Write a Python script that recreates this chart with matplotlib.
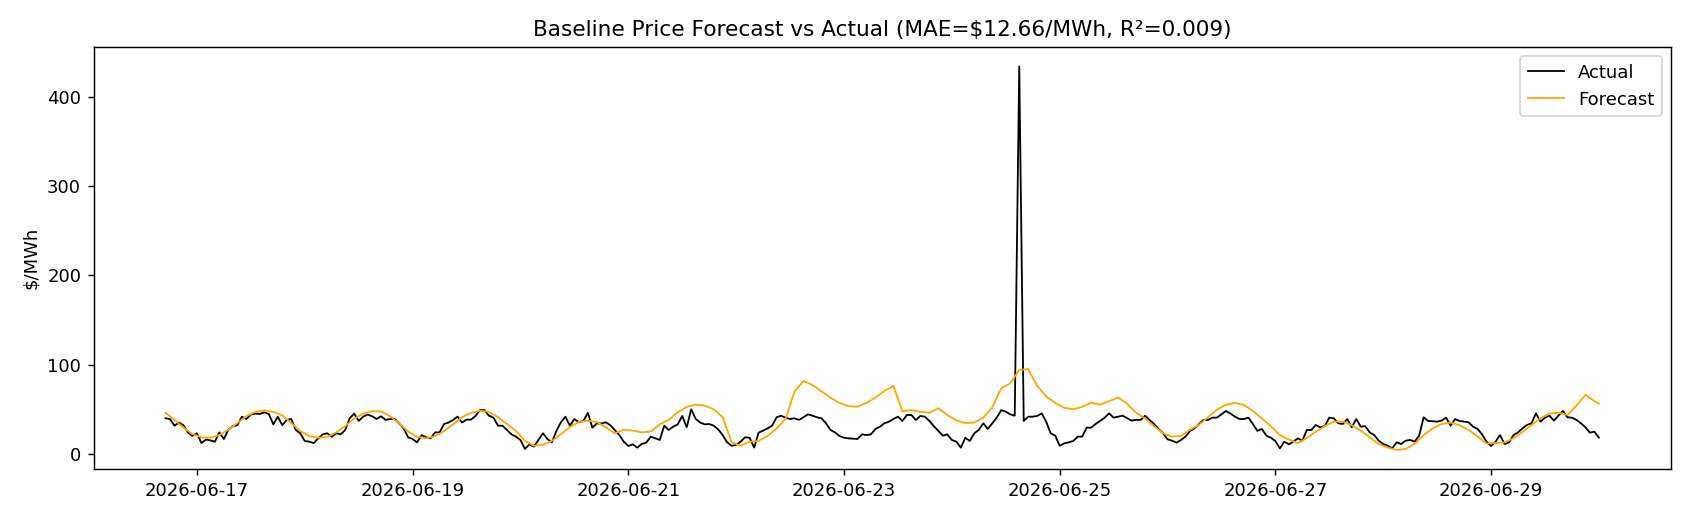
import numpy as np
import pandas as pd
import matplotlib
matplotlib.use("Agg")
import matplotlib.pyplot as plt
import matplotlib.dates as mdates

# actual: hourly, 2026-06-16 17:00 .. 2026-06-30 00:00
actual_times = pd.date_range("2026-06-16 17:00", periods=320, freq="h")
actual = [39.8, 39, 31.5, 35, 32, 24, 20, 23, 12, 16, 15, 13.6, 24, 16.6, 27, 31, 32, 41.6, 39, 44,
          45, 44.6, 46.5, 44.6, 33, 41.6, 32, 38,
          39, 26.7, 23, 14.3, 13.6, 12, 17.3, 21.8, 23, 19, 23, 21.8, 26.7, 39.8, 45, 36.8, 41.6, 44,
          42, 39, 42, 38, 39, 39, 34, 28.5, 18.5,
          16.6, 12.8, 21, 18.5, 17.3, 24, 24, 33.4, 35, 38, 41.6, 35, 38.3, 38.3, 42.4, 49, 49, 42.7,
          40.5, 31.5, 31.5, 26.7, 21.8, 19.2, 15.5, 5.4, 10.6, 8,
          15.5, 23, 16.6, 12.8, 25.6, 35.3, 41.6, 31.5, 39, 35.3, 36.8, 46, 29.3, 34, 34, 35.3, 32,
          26.7, 21, 13.6, 8.7, 10.6, 6.9, 11, 12.5, 19.2, 17.3,
          15.5, 31.5, 26.7, 30.4, 33, 42.4, 29.7, 49.9, 39, 35, 33, 33.4, 31.5, 27.4, 21, 12.8, 9, 10,
          13.6, 18.5, 18, 6.9, 23.7, 26, 28.5, 31.5, 40.9, 42.7, 40.5,
          39, 39.8, 38, 41, 44.2, 42.7, 40.9, 39.8, 34.2, 26.7, 24, 19.9, 18, 17.3, 17, 16.6, 21.8, 21,
          21.8, 27.8, 30.4, 34.2, 36, 39, 41.6, 36.8, 43.5,
          43.5, 37.8, 42.4, 41.6, 36.8, 31, 25.6, 20.3, 21.8, 15.5, 13.6, 6.9, 18, 14.3, 23, 26.7, 34.2,
          27.8, 34.2, 40.5, 49, 47.2, 44.2, 42.7, 434, 36.8, 41.6, 41.6,
          42.4, 45.3, 36, 23, 20.3, 9, 11.7, 12.8, 14.3, 19.2, 19.2, 29.3, 29.3, 33.4, 36.8, 40.5, 45.3,
          40.5, 41.6, 42.7, 40, 37.2, 38, 38, 42.7, 38, 33.4, 27.8, 23,
          16.2, 14.7, 12.5, 15.5, 19.2, 25.6, 28.5, 33.4, 38, 38, 40.5, 40.5, 44.2, 48, 45, 41.6, 39, 39,
          40.5, 33.4, 25.6, 27.8, 20.3, 18, 14.3, 6.1, 13.6,
          10.6, 13.6, 17.3, 14.7, 26.7, 26.7, 32.3, 29.7, 31, 40.5, 39.8, 34.2, 33.4, 39, 29.7, 39, 30.4,
          31, 24, 21, 14.7, 11, 9.1, 6.1, 12.8, 11, 14.7, 15.5,
          13.6, 20.3, 40.9, 36.8, 36.5, 36, 37.2, 40.5, 31.5, 39, 36.8, 36, 35.3, 30.4, 27.8, 21.8, 13.6,
          8.7, 13.6, 21, 11, 12.8, 21, 24, 28.5, 32.3, 34.2, 45.3,
          36, 40.5, 42.7, 37.2, 42.7, 48, 40.9, 40.5, 38, 34.2, 29.7, 23.7, 24.8, 18]

# forecast: 2-hourly readings
fc_times = list(pd.date_range("2026-06-16 17:00", periods=160, freq="2h")) + [pd.Timestamp("2026-06-30 00:00")]
forecast = [46, 38, 29.5, 22, 18.5, 18, 21, 27, 34.5, 42, 47, 48.7, 47, 43,
            34.5, 25.5, 19.8, 18, 19, 24, 31, 39.5, 45, 47.8, 47.5, 42, 34, 25,
            19, 17.5, 19.5, 25.5, 33, 41, 46, 48.3, 47, 41, 33.5, 25.5, 14.5, 9,
            10, 14.5, 22, 30, 35.7, 37, 35.5, 29.7, 23, 27, 26, 24, 25, 33,
            38, 46.5, 52.5, 55.2, 54, 50, 41, 13, 9, 13.6, 14.5, 20, 28.5, 39,
            70, 81.6, 77, 70, 62.8, 57, 53.3, 52.8, 57, 63, 70.5, 76, 47.5, 49,
            47, 46, 51, 43.5, 37.4, 34.5, 35, 40.5, 52, 73.5, 79, 94, 95, 76,
            64.4, 57, 51.5, 50, 52.5, 57.5, 55, 59, 63, 56, 46, 39.5, 31, 23,
            19.2, 20, 27, 32.5, 41, 49.5, 55, 57, 54.8, 48, 39.5, 31, 21, 16,
            12, 17.7, 24.7, 31, 36, 36.2, 32, 26, 18.5, 11, 7, 4.4, 5.5, 11,
            21, 28.5, 33.3, 35, 32, 26.8, 19.5, 11.5, 12, 12.8, 17.5, 24.5, 32, 39.8,
            45, 46.1, 43.5, 54, 66, 59, 56]

fig, ax = plt.subplots(figsize=(13, 4), dpi=130)
fig.subplots_adjust(left=0.0555, right=0.9885, top=0.909, bottom=0.098)

ax.plot(actual_times, actual, color="black", linewidth=1, label="Actual")
ax.plot(fc_times, forecast, color="orange", linewidth=1, label="Forecast")

ax.xaxis.set_major_locator(mdates.DayLocator(interval=2))
ax.xaxis.set_major_formatter(mdates.DateFormatter("%Y-%m-%d"))
ax.set_yticks([0, 100, 200, 300, 400])
ax.set_ylabel(r"\$/MWh")
ax.set_title(r"Baseline Price Forecast vs Actual (MAE=\$12.66/MWh, R²=0.009)")
ax.legend(loc="upper right")

fig.savefig("out.png", dpi=130)
